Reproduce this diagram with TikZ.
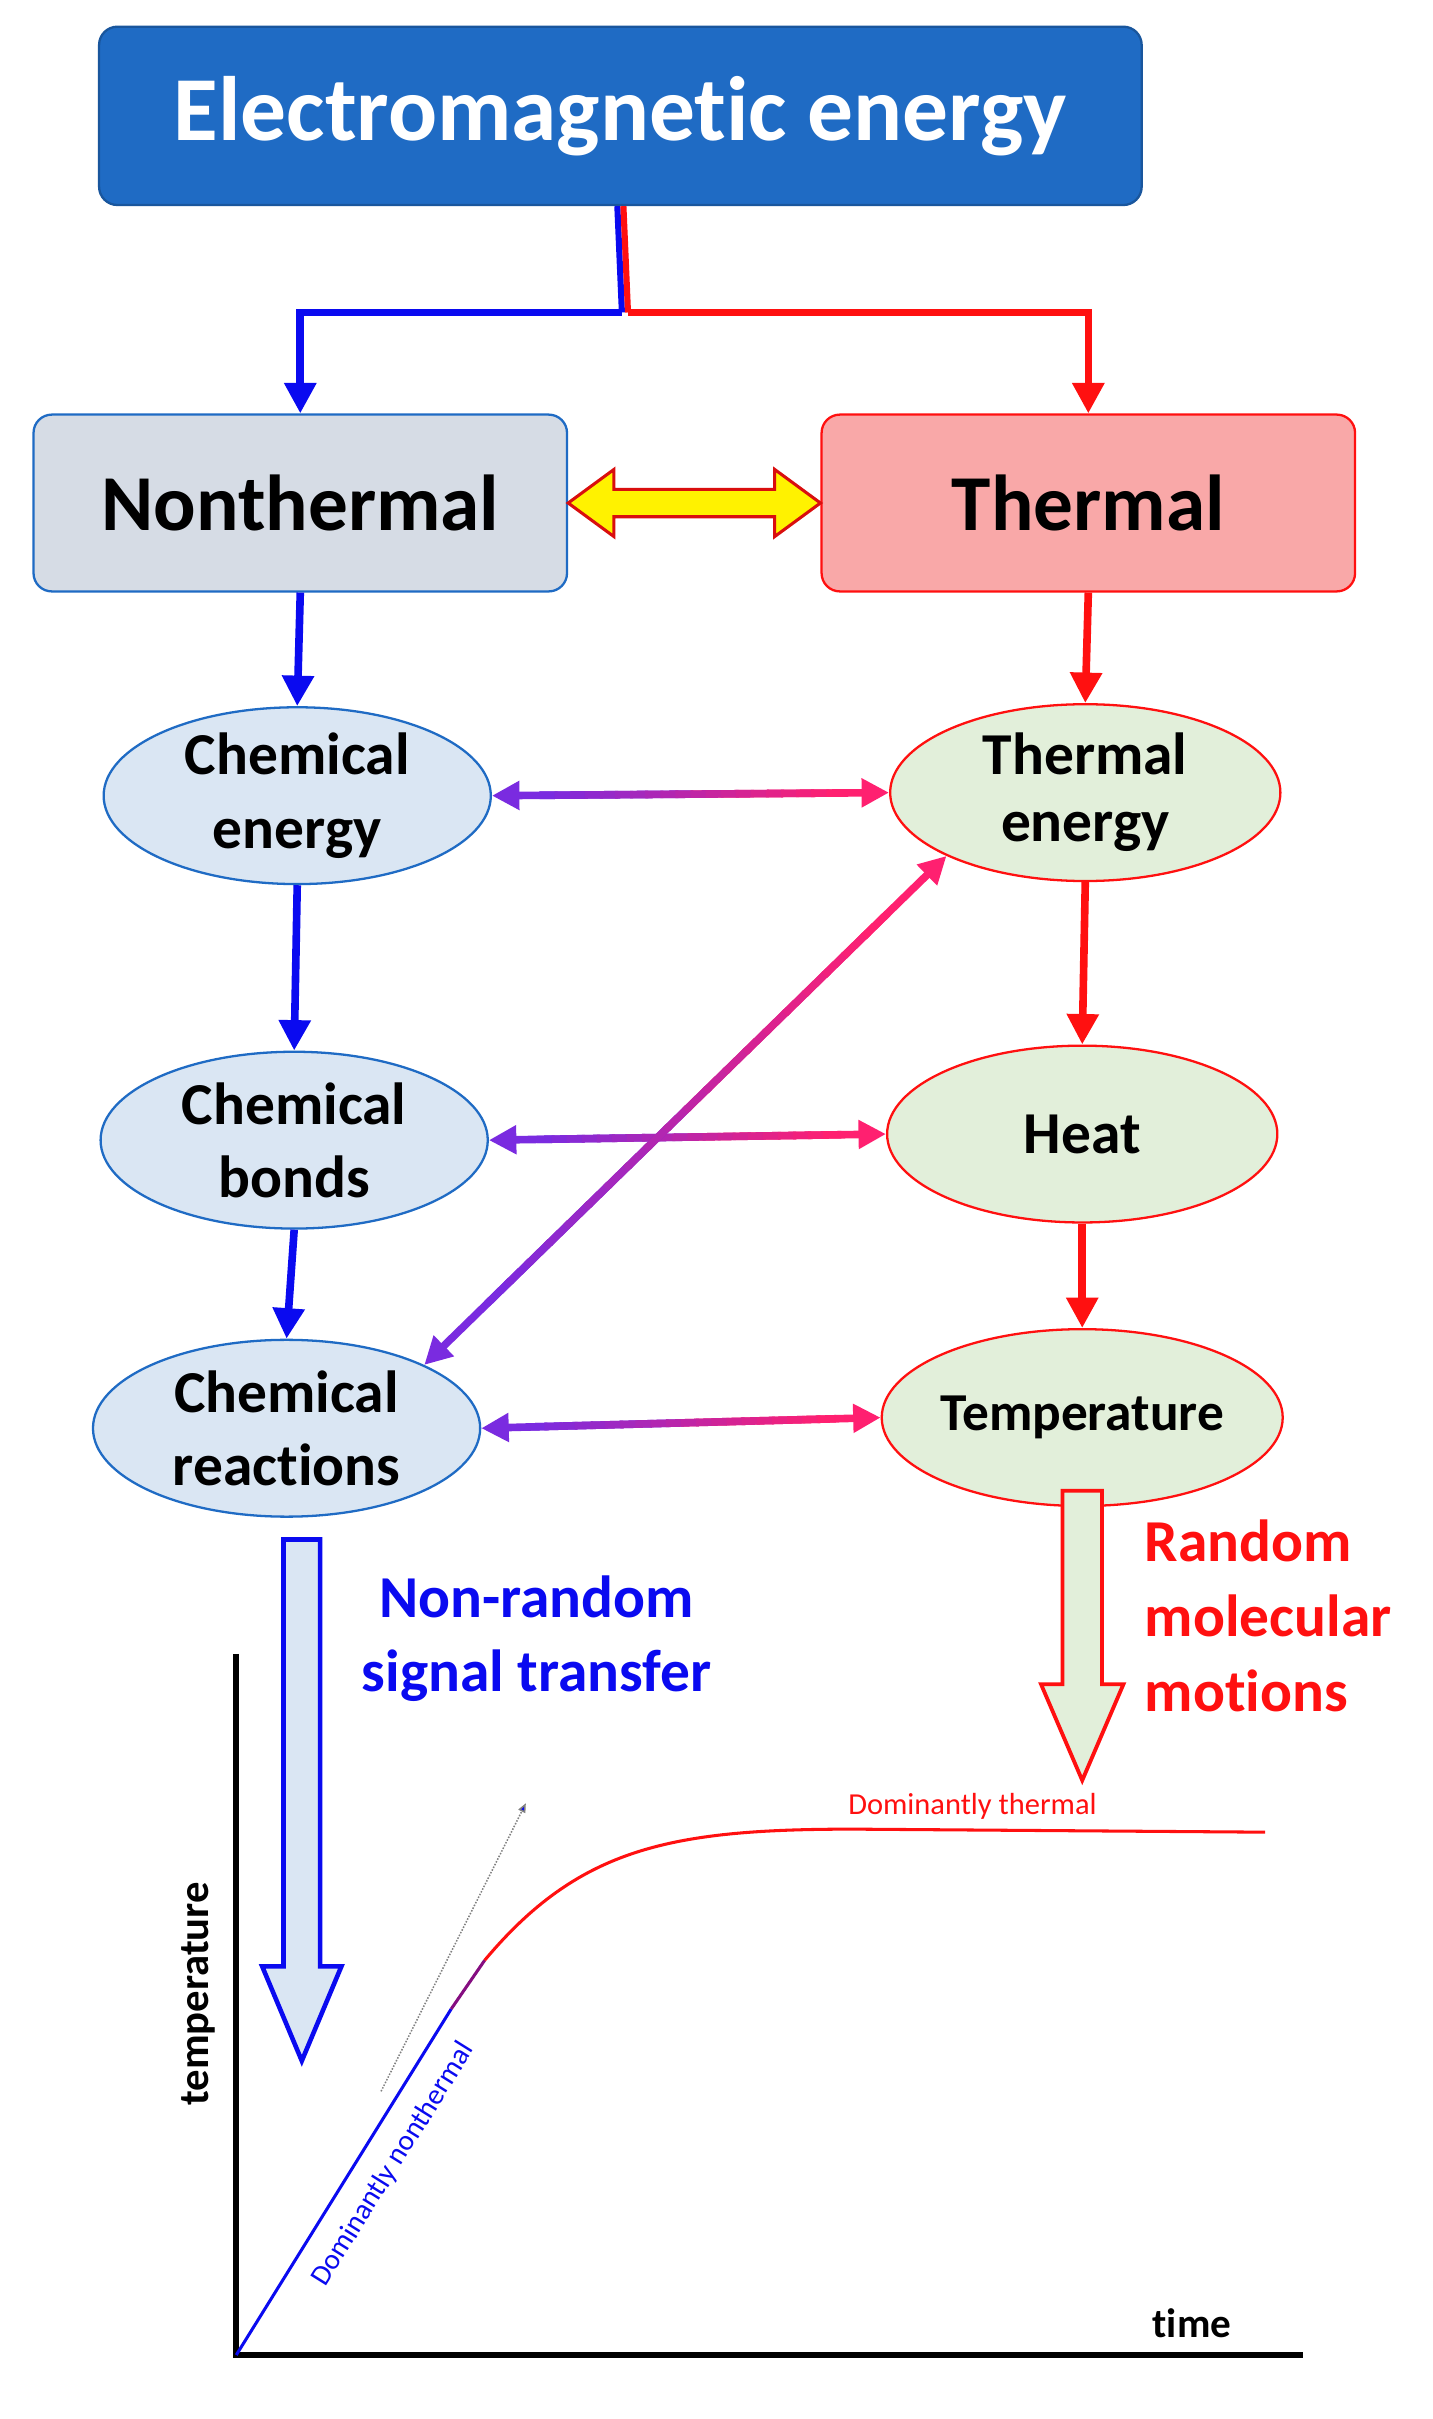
\documentclass[tikz,border=0pt]{standalone}
\usepackage{fontspec}
\setmainfont{Carlito}[Ligatures={NoCommon,NoRare,NoContextual}]
\usetikzlibrary{arrows.meta,calc,shapes.geometric}
\definecolor{topb}{HTML}{1F6BC4}
\definecolor{ntf}{HTML}{D6DCE5}
\definecolor{thf}{HTML}{F9A8A8}
\definecolor{lbf}{HTML}{DAE6F3}
\definecolor{lgf}{HTML}{E2EFDA}
\definecolor{gA}{HTML}{7A2BE0}
\definecolor{gB}{HTML}{FF2070}
\definecolor{bl}{HTML}{0A0AF0}
\definecolor{rd}{HTML}{FF1010}
\tikzset{
  box/.style={rounded corners=12pt,minimum width=350pt,minimum height=116pt,line width=1.5pt,font=\fontsize{52}{52}\selectfont\bfseries},
  lel/.style={ellipse,minimum width=254pt,minimum height=116pt,inner sep=0pt,fill=lbf,draw=topb,line width=1.5pt,align=center,font=\fontsize{39}{48}\selectfont\bfseries},
  rel/.style={ellipse,minimum width=256pt,minimum height=116pt,inner sep=0pt,fill=lgf,draw=rd,line width=1.5pt,align=center,font=\fontsize{39}{44}\selectfont\bfseries},
  barr/.style={draw=bl,line width=5pt,-{Triangle[length=20pt,width=20pt]}},
  rarr/.style={draw=rd,line width=5pt,-{Triangle[length=20pt,width=20pt]}},
  gtip/.style={line width=5pt,-{Triangle[length=18pt,width=18pt]}}
}
\newcommand\gradarrow[2]{%
  \draw[gtip,gB] ($(#1)!0.5!(#2)$) -- (#2);
  \draw[gtip,gA] ($(#1)!0.5!(#2)$) -- (#1);
  \foreach \i in {0,...,19}{%
    \pgfmathsetmacro\ta{0.12+0.76*\i/20}%
    \pgfmathsetmacro\tb{0.12+0.76*(\i+1.2)/20}%
    \pgfmathsetmacro\m{100*\i/19}%
    \draw[line width=5pt,gB!\m!gA] ($(#1)!\ta!(#2)$) -- ($(#1)!\tb!(#2)$);}%
}
\begin{document}
\begin{tikzpicture}[x=1pt,y=-1pt]
\useasboundingbox (0,0) rectangle (940,1587);
\fill[white] (0,0) rectangle (940,1587);
% top
\node[box,fill=topb,draw=topb!80!black,text=white,minimum width=684pt,minimum height=117pt,font=\fontsize{60}{60}\selectfont\bfseries] (top) at (407,76) {Electromagnet\kern0pt ic energy};
\node[box,fill=ntf,draw=topb] (nt) at (197,330) {Nonthermal};
\node[box,fill=thf,draw=rd] (th) at (714,330) {Thermal};
\coordinate (j) at (410,205);
\draw[line width=4pt,bl] ([xshift=-2pt]top.south) -- ([xshift=-2pt]j);
\draw[line width=4pt,rd] ([xshift=2pt]top.south) -- ([xshift=2pt]j);
\draw[barr] ([xshift=-2pt]j) -| (nt.north);
\draw[rarr] ([xshift=2pt]j) -| (th.north);
% yellow double arrow
\draw[fill=yellow,draw=rd!85!black,line width=2pt]
  (nt.east) -- ++(30,-22) -- ++(0,13) -- ($(th.west)+(-30,-9)$) -- ++(0,-13) -- (th.west)
  -- ++(-30,22) -- ++(0,-13) -- ($(nt.east)+(30,9)$) -- ++(0,13) -- cycle;
% ellipses
\node[lel] (ce) at (195,522) {Chemical\\energy};
\node[lel] (cb) at (193,748) {Chemical\\bonds};
\node[lel] (cr) at (188,937) {Chemical\\reactions};
\node[rel] (te) at (712,520) {Thermal\\energy};
\node[rel] (he) at (710,744) {Heat};
\node[rel,font=\fontsize{35}{40}\selectfont\bfseries] (tp) at (710,930) {Temperature};
\draw[barr] (nt.south) -- (ce.north);
\draw[barr] (ce.south) -- (cb.north);
\draw[barr] (cb.south) -- (cr.north);
\draw[rarr] (th.south) -- (te.north);
\draw[rarr] (te.south) -- (he.north);
\draw[rarr] (he.south) -- (tp.north);
\gradarrow{ce.east}{te.west}
\gradarrow{cb.east}{he.west}
\gradarrow{cr.east}{tp.west}
\gradarrow{cr.north east}{te.south west}
% hollow arrows
\draw[bl,fill=lbf,line width=3pt] (186,1010) -- (210,1010) -- (210,1290) -- (224,1290) -- (198,1352) -- (172,1290) -- (186,1290) -- cycle;
\draw[rd,fill=lgf,line width=2.5pt] (697,978) -- (723,978) -- (723,1105) -- (737,1105) -- (710,1168) -- (683,1105) -- (697,1105) -- cycle;
\node[bl,align=center,font=\fontsize{39}{48}\selectfont\bfseries] (nr) at (352,1075) {Non-random\\signal transfer};
\node[rd,align=left,font=\fontsize{39}{49}\selectfont\bfseries] (rm) at (832,1060) {Random\\molecular\\motions};
% graph
\coordinate (o) at (155,1545);
\draw[line width=4pt] (155,1085) -- (o) -- (855,1545);
\node[rotate=90,font=\fontsize{28}{28}\selectfont\bfseries] (yl) at (130,1308) {temperature};
\node[font=\fontsize{27}{27}\selectfont\bfseries] (xl) at (782,1524) {time};
\coordinate (c1) at (296,1318);
\coordinate (c2) at (318,1286);
\draw[gray,densely dotted,line width=1pt,-{Triangle[length=6pt,width=5pt,fill=bl]}] (250,1372) -- (345,1183);
\draw[bl,line width=2pt] (o) -- (c1);
\draw[bl!50!rd,line width=2pt] (c1) -- (c2);
\draw[rd,line width=2pt] (c2) .. controls (380,1212) and (440,1200) .. (560,1200) -- (830,1202);
\node[bl,rotate=58,font=\fontsize{19}{19}\selectfont] (dn) at (258,1420) {Dominantly nonthermal};
\node[rd,font=\fontsize{20}{20}\selectfont] (dt) at (638,1185) {Dominantly thermal};
\end{tikzpicture}
\end{document}
